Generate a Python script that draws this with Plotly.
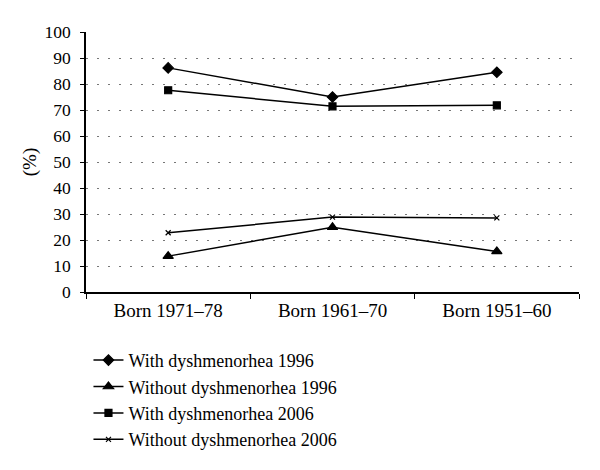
import plotly.graph_objects as go

categories = ["Born 1971–78", "Born 1961–70", "Born 1951–60"]
with_1996 = [86.2, 75.0, 84.5]
without_1996 = [13.8, 24.9, 15.6]
with_2006 = [77.6, 71.4, 71.8]
without_2006 = [22.8, 28.8, 28.5]

series = [
    ("With dyshmenorhea 1996", with_1996, "diamond", 8),
    ("Without dyshmenorhea 1996", without_1996, "triangle-up", 9),
    ("With dyshmenorhea 2006", with_2006, "square", 7),
    ("Without dyshmenorhea 2006", without_2006, "x-thin", 5),
]

fig = go.Figure()
for name, vals, sym, sz in series:
    fig.add_trace(go.Scatter(
        x=categories, y=vals, name=name, mode="lines+markers",
        line=dict(color="black", width=1.5),
        marker=dict(symbol=sym, size=sz, color="black",
                    line=dict(color="black", width=1.2)),
    ))

font_family = "Liberation Serif"
fig.update_layout(
    width=600, height=470,
    margin=dict(l=78, r=29, t=24, b=186, autoexpand=False),
    plot_bgcolor="white", paper_bgcolor="white",
    font=dict(family=font_family, size=19, color="black"),
    showlegend=True,
    legend=dict(x=0.005, y=-0.192, xanchor="left", yanchor="top",
                font=dict(size=18), tracegroupgap=0, itemwidth=30,
                bgcolor="rgba(0,0,0,0)"),
    xaxis=dict(
        type="category", range=[-0.5, 2.5], automargin=False,
        showline=True, linecolor="black", linewidth=1.5,
        ticks="outside", tickson="boundaries", ticklen=5, tickcolor="black",
        showgrid=False, zeroline=False,
        tickfont=dict(size=19),
    ),
    yaxis=dict(
        range=[0, 100], dtick=10, automargin=False,
        showline=True, linecolor="black", linewidth=1.5,
        ticks="outside", ticklen=4, tickcolor="black",
        ticklabelstandoff=6,
        showgrid=True, gridcolor="#777777", gridwidth=1.2, griddash="1.5px,9.5px",
        zeroline=False,
        tickfont=dict(size=17.5),
        title=dict(text="(%)", font=dict(size=19), standoff=3),
    ),
)

fig.write_html("out.html")
